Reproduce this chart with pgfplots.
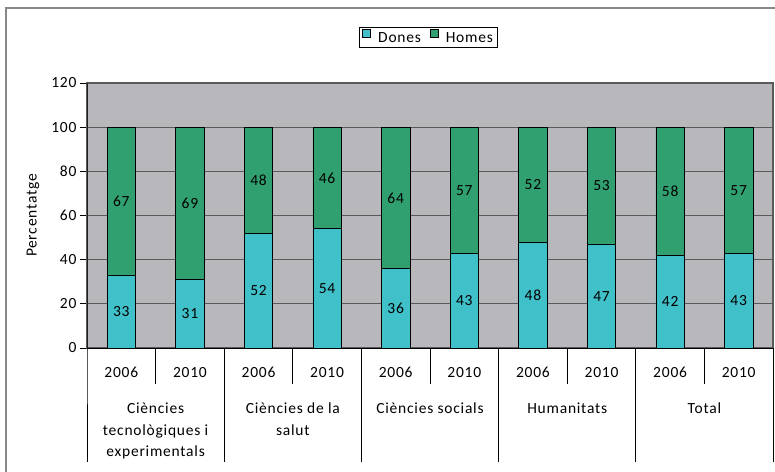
\documentclass[border=0pt]{standalone}
\usepackage{pgfplots}
\pgfplotsset{compat=1.18}
\usepackage{pgfplotstable}
\usepackage{fontspec}
\setmainfont{Carlito}[LetterSpace=5]
\definecolor{dones}{HTML}{40C0C8}
\definecolor{homes}{HTML}{30A070}
\definecolor{bg}{HTML}{B8B8BC}
\definecolor{grd}{HTML}{5A5A5A}
\definecolor{frm}{HTML}{888888}
\pgfplotstableread{
x d h
0 33 67
1 31 69
2 52 48
3 54 46
4 36 64
5 43 57
6 48 52
7 47 53
8 42 58
9 43 57
}\data
\pgfplotsset{/pgf/number format/assume math mode=true}
\begin{document}
\begin{tikzpicture}[font=\fontsize{15.5pt}{18pt}\selectfont]
\path[use as bounding box] (0pt,0pt) rectangle (775pt,-471pt);
\clip (0pt,0pt) rectangle (775pt,-471pt);
\draw[draw=frm, line width=2pt] (6pt,-480pt) -- (6pt,-7.5pt) -- (790pt,-7.5pt);
\begin{axis}[
  at={(87pt,-348pt)}, anchor=south west, scale only axis,
  width=686pt, height=265pt,
  ybar stacked, bar width=28.4pt,
  xmin=-0.5, xmax=9.5, ymin=0, ymax=120,
  ytick={0,20,...,120}, xtick=\empty, ytick pos=left,
  ymajorgrids, grid style={draw=grd, line width=0.9pt},
  axis background/.style={fill=bg},
  axis line style={draw=grd, line width=1.2pt},
  tick align=outside, major tick length=7pt,
  ytick style={draw=black, line width=0.9pt},
  ylabel={Percentatge},
  every axis y label/.style={at={(axis description cs:-0.0787,0.5)}, rotate=90, anchor=center},
  legend columns=2,
  legend style={at={(0.498,1.1717)}, anchor=center, draw=black, line width=0.8pt,
    /tikz/every even column/.append style={column sep=7pt}},
  clip=false,
]
\addplot[fill=dones, draw=black, line width=0.8pt,
  legend image code/.code={\draw[fill=dones,draw=black,line width=0.8pt] (0pt,0.5pt) rectangle (8pt,8.5pt); \path (13pt,0pt);}]
  table[x=x,y=d]{\data};
\addplot[fill=homes, draw=black, line width=0.8pt,
  legend image code/.code={\draw[fill=homes,draw=black,line width=0.8pt] (0pt,0.5pt) rectangle (8pt,8.5pt); \path (13pt,0pt);}]
  table[x=x,y=h]{\data};
\legend{Dones,Homes}
\end{axis}
\begin{axis}[
  at={(87pt,-348pt)}, anchor=south west, scale only axis,
  width=686pt, height=265pt,
  xmin=-0.5, xmax=9.5, ymin=0, ymax=120,
  hide axis, clip=false,
]
\addplot[only marks, mark=none, nodes near coords, point meta=explicit,
  every node near coord/.style={anchor=center, text=black}]
  table[x=x, y expr=\thisrow{d}/2, meta=d]{\data};
\addplot[only marks, mark=none, nodes near coords, point meta=explicit,
  every node near coord/.style={anchor=center, text=black}]
  table[x=x, y expr=\thisrow{d}+\thisrow{h}/2, meta=h]{\data};
\draw[black, line width=1pt] (axis cs:-0.5,0) -- (axis cs:9.5,0);
\draw[black, line width=1pt] (axis cs:-0.5,120) -- (axis cs:-0.5,0) -- ++(0pt,-114pt);
\pgfplotsinvokeforeach{1.5,3.5,5.5,7.5,9.5}{
  \draw[black, line width=1pt] (axis cs:#1,0) -- ++(0pt,-114pt);}
\pgfplotsinvokeforeach{0.5,2.5,4.5,6.5,8.5}{
  \draw[black, line width=1pt] (axis cs:#1,0) -- ++(0pt,-36pt);}
\pgfplotsinvokeforeach{0,2,4,6,8}{
  \node[anchor=base] at ([yshift=-29.5pt]axis cs:#1,0) {2006};}
\pgfplotsinvokeforeach{1,3,5,7,9}{
  \node[anchor=base] at ([yshift=-29.5pt]axis cs:#1,0) {2010};}
\node[anchor=base] at ([yshift=-65.5pt]axis cs:0.5,0) {Ciències};
\node[anchor=base] at ([yshift=-87.5pt]axis cs:0.5,0) {tecnològiques i};
\node[anchor=base] at ([yshift=-108.5pt]axis cs:0.5,0) {experimentals};
\node[anchor=base] at ([yshift=-65.5pt]axis cs:2.5,0) {Ciències de la};
\node[anchor=base] at ([yshift=-87.5pt]axis cs:2.5,0) {salut};
\node[anchor=base] at ([yshift=-65.5pt]axis cs:4.5,0) {Ciències socials};
\node[anchor=base] at ([yshift=-65.5pt]axis cs:6.5,0) {Humanitats};
\node[anchor=base] at ([yshift=-65.5pt]axis cs:8.5,0) {Total};
\end{axis}
\end{tikzpicture}
\end{document}
